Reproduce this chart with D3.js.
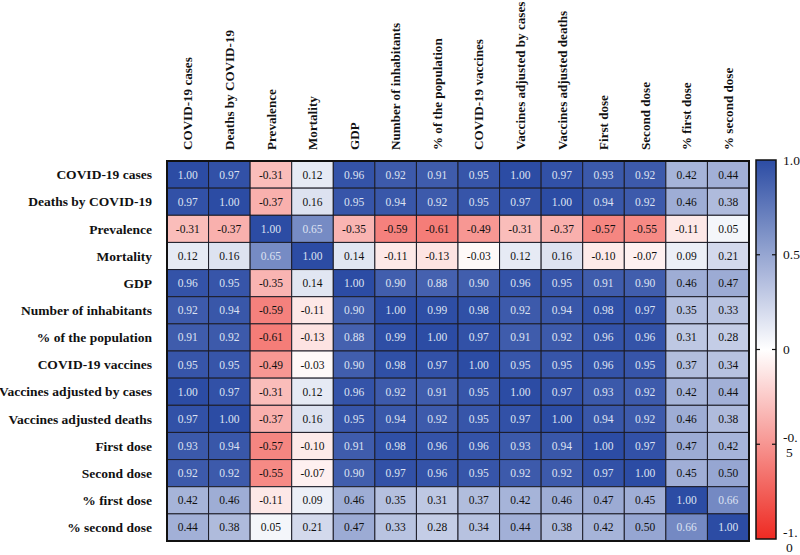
<!DOCTYPE html>
<html>
<head>
<meta charset="utf-8">
<script src="https://cdn.jsdelivr.net/npm/d3@7"></script>
<style>
  body { margin: 0; background: #fff; }
  svg { display: block; font-family: "Liberation Serif", "Times New Roman", serif; }
</style>
</head>
<body>
<svg id="chart" width="800" height="555"></svg>
<script>
const variables = [
  "COVID-19 cases", "Deaths by COVID-19", "Prevalence", "Mortality", "GDP",
  "Number of inhabitants", "% of the population", "COVID-19 vaccines",
  "Vaccines adjusted by cases", "Vaccines adjusted deaths", "First dose",
  "Second dose", "% first dose", "% second dose"
];
const rowCovidCases      = [1.00, 0.97, -0.31, 0.12, 0.96, 0.92, 0.91, 0.95, 1.00, 0.97, 0.93, 0.92, 0.42, 0.44];
const rowDeaths          = [0.97, 1.00, -0.37, 0.16, 0.95, 0.94, 0.92, 0.95, 0.97, 1.00, 0.94, 0.92, 0.46, 0.38];
const rowPrevalence      = [-0.31, -0.37, 1.00, 0.65, -0.35, -0.59, -0.61, -0.49, -0.31, -0.37, -0.57, -0.55, -0.11, 0.05];
const rowMortality       = [0.12, 0.16, 0.65, 1.00, 0.14, -0.11, -0.13, -0.03, 0.12, 0.16, -0.10, -0.07, 0.09, 0.21];
const rowGDP             = [0.96, 0.95, -0.35, 0.14, 1.00, 0.90, 0.88, 0.90, 0.96, 0.95, 0.91, 0.90, 0.46, 0.47];
const rowInhabitants     = [0.92, 0.94, -0.59, -0.11, 0.90, 1.00, 0.99, 0.98, 0.92, 0.94, 0.98, 0.97, 0.35, 0.33];
const rowPctPopulation   = [0.91, 0.92, -0.61, -0.13, 0.88, 0.99, 1.00, 0.97, 0.91, 0.92, 0.96, 0.96, 0.31, 0.28];
const rowVaccines        = [0.95, 0.95, -0.49, -0.03, 0.90, 0.98, 0.97, 1.00, 0.95, 0.95, 0.96, 0.95, 0.37, 0.34];
const rowVaccAdjCases    = [1.00, 0.97, -0.31, 0.12, 0.96, 0.92, 0.91, 0.95, 1.00, 0.97, 0.93, 0.92, 0.42, 0.44];
const rowVaccAdjDeaths   = [0.97, 1.00, -0.37, 0.16, 0.95, 0.94, 0.92, 0.95, 0.97, 1.00, 0.94, 0.92, 0.46, 0.38];
const rowFirstDose       = [0.93, 0.94, -0.57, -0.10, 0.91, 0.98, 0.96, 0.96, 0.93, 0.94, 1.00, 0.97, 0.47, 0.42];
const rowSecondDose      = [0.92, 0.92, -0.55, -0.07, 0.90, 0.97, 0.96, 0.95, 0.92, 0.92, 0.97, 1.00, 0.45, 0.50];
const rowPctFirstDose    = [0.42, 0.46, -0.11, 0.09, 0.46, 0.35, 0.31, 0.37, 0.42, 0.46, 0.47, 0.45, 1.00, 0.66];
const rowPctSecondDose   = [0.44, 0.38, 0.05, 0.21, 0.47, 0.33, 0.28, 0.34, 0.44, 0.38, 0.42, 0.50, 0.66, 1.00];
const matrix = [rowCovidCases, rowDeaths, rowPrevalence, rowMortality, rowGDP, rowInhabitants,
  rowPctPopulation, rowVaccines, rowVaccAdjCases, rowVaccAdjDeaths, rowFirstDose, rowSecondDose,
  rowPctFirstDose, rowPctSecondDose];
const legendTicks = [1.0, 0.5, 0, -0.5, -1.0];
const legendTickLabels = [["1.0"], ["0.5"], ["0"], ["-0.", "5"], ["-1.", "0"]];

const svg = d3.select("#chart");
const gridLeft = 167, gridRight = 749, gridTop = 161, gridBottom = 541;

const x = d3.scaleBand().domain(variables).range([gridLeft, gridRight]).padding(0);
const y = d3.scaleBand().domain(variables).range([gridTop, gridBottom]).padding(0);
const color = d3.scaleLinear().domain([-1, 0, 1]).range(["#ee2a22", "#ffffff", "#2c4ca4"]);

const cells = [];
matrix.forEach((row, i) => row.forEach((v, j) => cells.push({r: variables[i], c: variables[j], v})));

const g = svg.append("g");
g.selectAll("rect.cell").data(cells).enter().append("rect")
  .attr("class", "cell")
  .attr("x", d => x(d.c)).attr("y", d => y(d.r))
  .attr("width", x.bandwidth()).attr("height", y.bandwidth())
  .attr("fill", d => color(d.v))
  .attr("stroke", "#1c1c28").attr("stroke-width", 1);

g.selectAll("text.val").data(cells).enter().append("text")
  .attr("class", "val")
  .attr("x", d => x(d.c) + x.bandwidth() / 2)
  .attr("y", d => y(d.r) + y.bandwidth() / 2)
  .attr("dy", "0.35em")
  .attr("text-anchor", "middle")
  .attr("font-size", 11.5)
  .attr("fill", d => d.v >= 0.6 ? "#dde2f2" : "#111")
  .text(d => d.v.toFixed(2));

// outer border
g.append("rect").attr("x", gridLeft).attr("y", gridTop).attr("width", gridRight - gridLeft).attr("height", gridBottom - gridTop)
  .attr("fill", "none").attr("stroke", "#111").attr("stroke-width", 2);

// row labels
svg.append("g").selectAll("text").data(variables).enter().append("text")
  .attr("x", 152).attr("y", d => y(d) + y.bandwidth() / 2).attr("dy", "0.35em")
  .attr("text-anchor", "end").attr("font-weight", "bold").attr("font-size", 13.5).attr("fill", "#111")
  .text(d => d);

// column labels
svg.append("g").selectAll("text").data(variables).enter().append("text")
  .attr("transform", d => `translate(${x(d) + x.bandwidth() / 2},150) rotate(-90)`)
  .attr("dy", "0.35em")
  .attr("text-anchor", "start").attr("font-weight", "bold").attr("font-size", 13.1).attr("fill", "#111")
  .text(d => d);

// colour bar
const lb = {x0: 756, x1: 776, y0: 160, y1: 539};
const ly = d3.scaleLinear().domain([1, -1]).range([lb.y0, lb.y1]);
const defs = svg.append("defs");
const grad = defs.append("linearGradient").attr("id", "cbar").attr("x1", 0).attr("y1", 0).attr("x2", 0).attr("y2", 1);
d3.range(0, 1.0001, 0.05).forEach(t => {
  const v = 1 - 2 * t;
  grad.append("stop").attr("offset", t).attr("stop-color", color(v));
});
svg.append("rect").attr("x", lb.x0).attr("y", lb.y0).attr("width", lb.x1 - lb.x0).attr("height", lb.y1 - lb.y0)
  .attr("fill", "url(#cbar)").attr("stroke", "#111").attr("stroke-width", 1.5);
const tg = svg.append("g");
legendTicks.forEach((t, i) => {
  if (t !== 1.0 && t !== -1.0) {
    tg.append("line").attr("x1", lb.x0).attr("x2", lb.x0 + 4).attr("y1", ly(t)).attr("y2", ly(t)).attr("stroke", "#111").attr("stroke-width", 1.2);
    tg.append("line").attr("x1", lb.x1 - 4).attr("x2", lb.x1).attr("y1", ly(t)).attr("y2", ly(t)).attr("stroke", "#111").attr("stroke-width", 1.2);
  }
  const lines = legendTickLabels[i];
  if (lines.length === 1) {
    tg.append("text").attr("x", 783).attr("y", ly(t)).attr("dy", "0.35em")
      .attr("font-size", 13.5).attr("fill", "#111").text(lines[0]);
  } else {
    tg.append("text").attr("x", 783).attr("y", ly(t) - 7).attr("dy", "0.35em")
      .attr("font-size", 13.5).attr("fill", "#111").text(lines[0]);
    tg.append("text").attr("x", 786).attr("y", ly(t) + 8).attr("dy", "0.35em")
      .attr("font-size", 13.5).attr("fill", "#111").text(lines[1]);
  }
});
</script>
</body>
</html>
